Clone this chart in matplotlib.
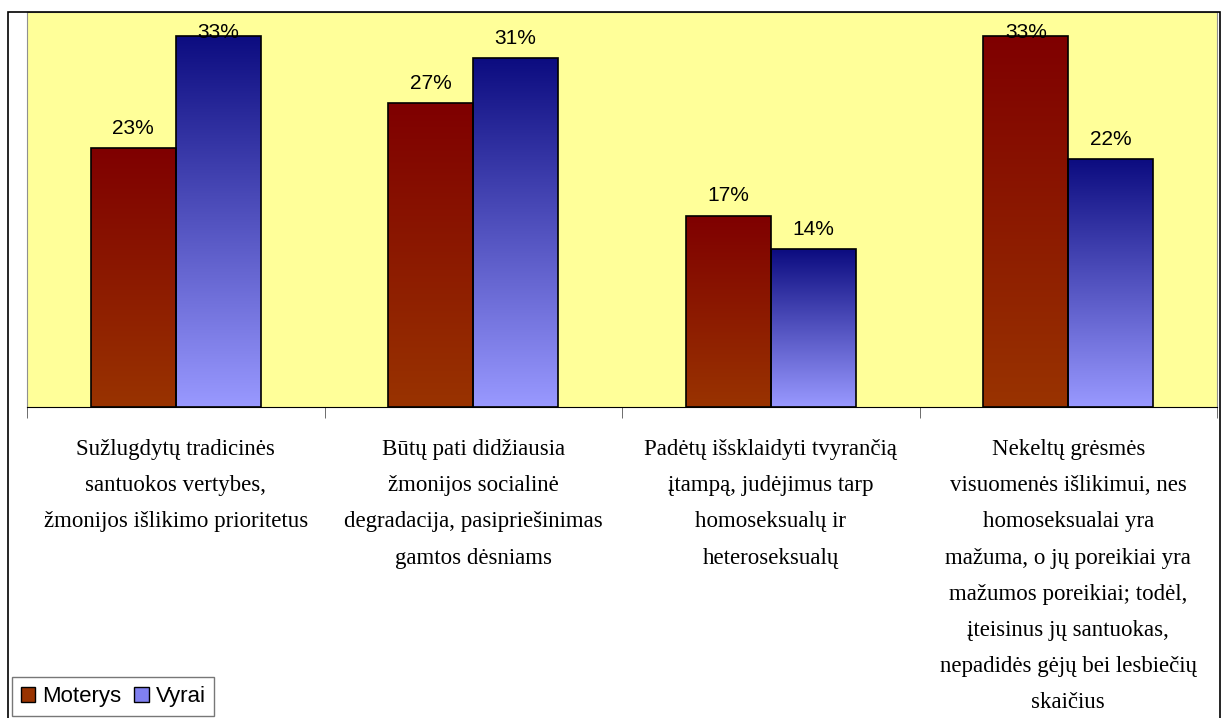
import numpy as np
import matplotlib.pyplot as plt
from matplotlib.patches import Rectangle, Patch
from matplotlib.colors import LinearSegmentedColormap

categories = [
    "Sužlugdytų tradicinės\nsantuokos vertybes,\nžmonijos išlikimo prioritetus",
    "Būtų pati didžiausia\nžmonijos socialinė\ndegradacija, pasipriešinimas\ngamtos dėsniams",
    "Padėtų išsklaidyti tvyrančią\nįtampą, judėjimus tarp\nhomoseksualų ir\nheteroseksualų",
    "Nekeltų grėsmės\nvisuomenės išlikimui, nes\nhomoseksualai yra\nmažuma, o jų poreikiai yra\n"
    "mažumos poreikiai; todėl,\nįteisinus jų santuokas,\nnepadidės gėjų bei lesbiečių\nskaičius",
]
moterys = [23, 27, 17, 33]
vyrai = [33, 31, 14, 22]
series_names = ["Moterys", "Vyrai"]

W, H = 1223, 718
fig = plt.figure(figsize=(W / 100, H / 100), dpi=100)
fig.patch.set_facecolor("white")

# outer chart frame
fig.add_artist(Rectangle((8 / W, -0.01), (1220 - 8) / W, 1.01 - 12 / H,
                         transform=fig.transFigure, fill=False, edgecolor="black", lw=1.2))

ax = fig.add_axes([27 / W, 1 - 407 / H, (1217 - 27) / W, (407 - 12) / H])
ax.set_facecolor("#FFFF99")

x = np.arange(len(categories))
bw = 0.285
red_cmap = LinearSegmentedColormap.from_list("r", ["#993300", "#7F0000"])
blue_cmap = LinearSegmentedColormap.from_list("b", ["#9999FF", "#0C0C80"])
grad = np.linspace(0, 1, 256).reshape(-1, 1)

bars_m = ax.bar(x - bw / 2, moterys, bw, facecolor="none", edgecolor="black", lw=1.2, zorder=3)
bars_v = ax.bar(x + bw / 2, vyrai, bw, facecolor="none", edgecolor="black", lw=1.2, zorder=3)

for bars, cmap in [(bars_m, red_cmap), (bars_v, blue_cmap)]:
    for b in bars:
        x0, w, h = b.get_x(), b.get_width(), b.get_height()
        im = ax.imshow(grad, cmap=cmap, origin="lower", aspect="auto",
                       extent=[x0, x0 + w, 0, h], zorder=2)
        im.set_clip_path(b)
        ax.text(x0 + w / 2, min(h + 1.3, 32.8), f"{h}%", ha="center", va="baseline",
                fontsize=15, family="Liberation Sans", zorder=4)

ax.set_xlim(-0.5, len(categories) - 0.5)
ax.set_ylim(0, 35.1)
ax.set_yticks([])
ax.set_xticks(x, categories, family="Liberation Serif", fontsize=16.5, linespacing=1.95)
ax.tick_params(axis="x", length=0, pad=23)
ax.set_xticks(np.arange(-0.5, len(categories)), minor=True)
ax.tick_params(axis="x", which="minor", length=8, direction="out", color="#555555")
for s in ["top", "left", "right"]:
    ax.spines[s].set_color("#909090")
ax.spines["bottom"].set_color("black")

fig.legend(handles=[Patch(facecolor="#993300", edgecolor="black"),
                    Patch(facecolor="#8080F0", edgecolor="black")],
           labels=series_names, loc="lower left", bbox_to_anchor=(12 / W, 2 / H),
           ncol=2, frameon=True, fancybox=False, edgecolor="#555555",
           prop={"family": "Liberation Sans", "size": 16},
           handlelength=0.65, handleheight=0.65, handletextpad=0.3, columnspacing=0.6,
           borderpad=0.4, borderaxespad=0)

fig.savefig("out.png", dpi=100)
